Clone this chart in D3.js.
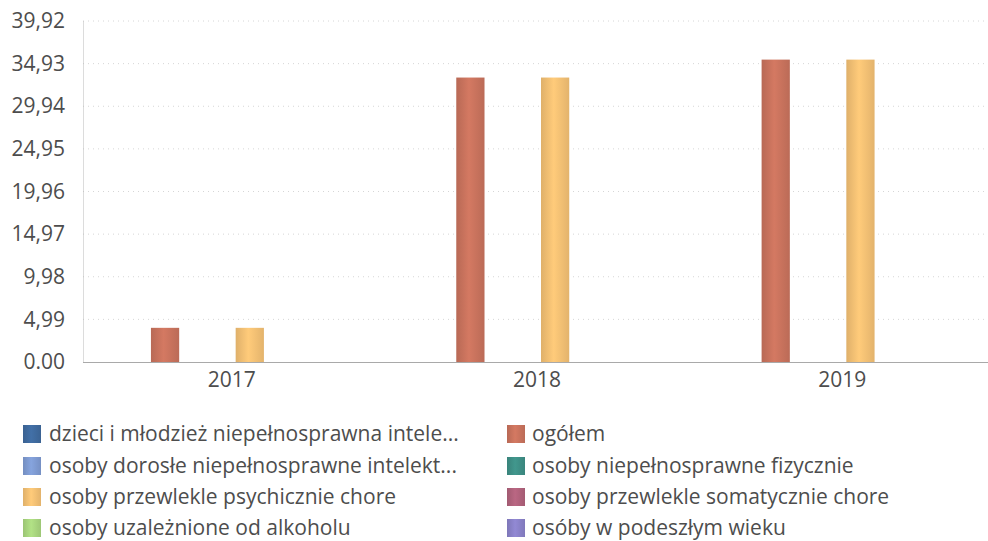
<!DOCTYPE html>
<html>
<head>
<meta charset="utf-8">
<script src="https://cdn.jsdelivr.net/npm/d3@7"></script>
<style>
  body { margin: 0; background: #fff; }
  text { font-family: "Open Sans", sans-serif; fill: #4d4d4d; }
</style>
</head>
<body>
<div id="chart"></div>
<script>
// categories and series
var years = ["2017", "2018", "2019"];
var seriesNames = [
  "dzieci i młodzież niepełnosprawna intele...",
  "ogółem",
  "osoby dorosłe niepełnosprawne intelekt...",
  "osoby niepełnosprawne fizycznie",
  "osoby przewlekle psychicznie chore",
  "osoby przewlekle somatycznie chore",
  "osoby uzależnione od alkoholu",
  "osóby w podeszłym wieku"
];
var seriesColors = ["#3f6a9e", "#c9735d", "#7f9bd2", "#3e8f86", "#f4c074", "#b0627c", "#a9d67f", "#8a82c9"];

// values per series (2017, 2018, 2019)
var dzieci = [0, 0, 0];
var ogolem = [4.0, 33.3, 35.4];
var dorosle = [0, 0, 0];
var fizycznie = [0, 0, 0];
var psychicznie = [4.0, 33.3, 35.4];
var somatycznie = [0, 0, 0];
var alkohol = [0, 0, 0];
var wiek = [0, 0, 0];
var seriesValues = [dzieci, ogolem, dorosle, fizycznie, psychicznie, somatycznie, alkohol, wiek];

// y ticks
var yTickValues = [0, 4.99, 9.98, 14.97, 19.96, 24.95, 29.94, 34.93, 39.92];
var yTickLabels = ["0.00", "4,99", "9,98", "14,97", "19,96", "24,95", "29,94", "34,93", "39,92"];

var W = 988, H = 541;
var plotLeft = 83, plotRight = 999, plotTop = 21, plotBottom = 362;

var svg = d3.select("#chart")
  .append("svg")
    .attr("width", W)
    .attr("height", H);

var defs = svg.append("defs");
seriesColors.forEach(function (c, i) {
  var g = defs.append("linearGradient")
    .attr("id", "grad" + i)
    .attr("x1", "0%").attr("x2", "100%")
    .attr("y1", "0%").attr("y2", "0%");
  g.append("stop").attr("offset", "0%").attr("stop-color", d3.color(c).darker(0.25));
  g.append("stop").attr("offset", "45%").attr("stop-color", d3.color(c).brighter(0.15));
  g.append("stop").attr("offset", "100%").attr("stop-color", d3.color(c).darker(0.2));
});

// scales
var x0 = d3.scaleBand()
  .domain(years)
  .range([plotLeft, plotRight])
  .paddingInner(0.26)
  .paddingOuter(0.13);

var x1 = d3.scaleBand()
  .domain(d3.range(seriesNames.length))
  .range([0, x0.bandwidth()])
  .padding(0);

var y = d3.scaleLinear()
  .domain([0, 39.92])
  .range([plotBottom, plotTop]);

// grid lines
svg.append("g")
  .selectAll("line")
  .data(yTickValues.slice(1))
  .enter()
    .append("line")
    .attr("x1", plotLeft)
    .attr("x2", W)
    .attr("y1", d => y(d))
    .attr("y2", d => y(d))
    .attr("stroke", "#d6d6d6")
    .attr("stroke-width", 1)
    .attr("stroke-dasharray", "1,4");

// y axis
var yAxis = svg.append("g")
  .attr("transform", "translate(" + plotLeft + ",0)")
  .call(d3.axisLeft(y)
    .tickValues(yTickValues)
    .tickFormat((d, i) => yTickLabels[i])
    .tickSize(0)
    .tickPadding(18));
yAxis.select(".domain")
  .attr("stroke", "#b8b8b8")
  .attr("stroke-dasharray", "1,1");
yAxis.selectAll("text")
  .style("font-size", "21px")
  .style("font-family", "Open Sans, sans-serif")
  .attr("fill", "#4d4d4d");

// bars
var rows = [];
years.forEach(function (yr, j) {
  seriesValues.forEach(function (vals, i) {
    rows.push({ year: yr, s: i, v: vals[j] });
  });
});

svg.append("g")
  .selectAll("rect")
  .data(rows.filter(d => d.v > 0))
  .enter()
    .append("rect")
    .attr("x", d => x0(d.year) + x1(d.s))
    .attr("y", d => y(d.v))
    .attr("width", x1.bandwidth())
    .attr("height", d => y(0) - y(d.v))
    .attr("fill", d => "url(#grad" + d.s + ")");

// x axis
var xAxis = svg.append("g")
  .attr("transform", "translate(0," + plotBottom + ")")
  .call(d3.axisBottom(x0).tickSize(0).tickPadding(10));
xAxis.select(".domain")
  .attr("stroke", "#a9a9a9")
  .attr("d", "M" + plotLeft + ",0.5H" + W);
xAxis.selectAll("text")
  .attr("dx", -4)
  .style("font-size", "21px")
  .style("font-family", "Open Sans, sans-serif")
  .attr("fill", "#4d4d4d");

// legend
var legendX = [23, 507];
var legendY = [434, 466, 497, 528];
var legend = svg.append("g")
  .selectAll("g")
  .data(seriesNames)
  .enter()
    .append("g")
    .attr("transform", (d, i) => "translate(" + legendX[i % 2] + "," + legendY[Math.floor(i / 2)] + ")");

legend.append("rect")
  .attr("x", 0)
  .attr("y", -9)
  .attr("width", 18)
  .attr("height", 18)
  .attr("fill", (d, i) => "url(#grad" + i + ")");

legend.append("text")
  .attr("x", (d, i) => i % 2 === 0 ? 26 : 25)
  .attr("dy", "0.35em")
  .style("font-size", "21px")
  .text(d => d);
</script>
</body>
</html>
